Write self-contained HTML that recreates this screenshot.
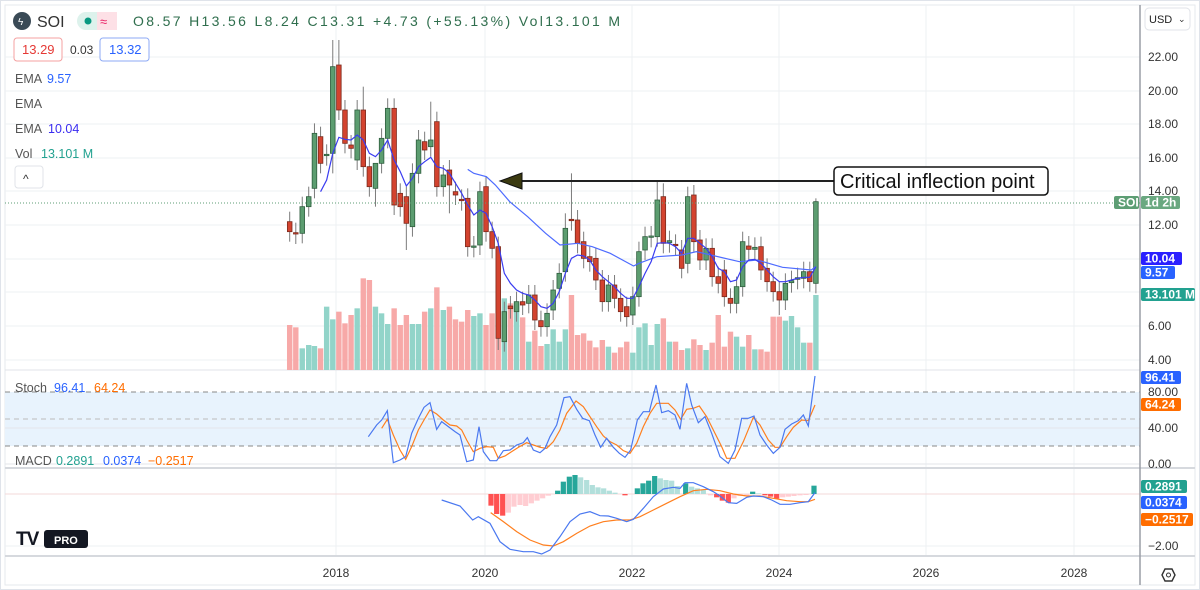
<!DOCTYPE html>
<html><head><meta charset="utf-8"><style>
body{margin:0;width:1200px;height:590px;background:#fff;overflow:hidden;font-family:"Liberation Sans",sans-serif;}
svg{position:absolute;left:0;top:0}
</style></head><body>
<svg id="s" width="1200" height="590" xmlns="http://www.w3.org/2000/svg" font-family="Liberation Sans, sans-serif"></svg>
<script>
const S=document.getElementById('s');let h='';
function add(x){h+=x;}
add('<rect x="0.5" y="0.5" width="1199" height="589" fill="#fff" stroke="#dfe3ea"/>');
add('<rect x="5" y="5" width="1190" height="580" fill="none" stroke="#e6e9ee"/>');
const hy=[57,91,124,158,191,225,259,292,326,360];
hy.forEach(y=>add(`<line x1="5" x2="1140" y1="${y}" y2="${y}" stroke="#eef0f3"/>`));
[336,485,632,779,926,1074].forEach(x=>add(`<line x1="${x}" x2="${x}" y1="5" y2="556" stroke="#eef0f3"/>`));
add('<rect x="5" y="392" width="1135" height="54" fill="#e8f3fd"/>');
[392,446].forEach(y=>add(`<line x1="5" x2="1140" y1="${y}" y2="${y}" stroke="#888" stroke-dasharray="5,4"/>`));
add('<line x1="5" x2="1140" y1="419" y2="419" stroke="#bbb" stroke-dasharray="5,4"/>');
add('<line x1="5" x2="1140" y1="428" y2="428" stroke="#e3e6ea"/><line x1="5" x2="1140" y1="464" y2="464" stroke="#e3e6ea"/>');
add('<line x1="5" x2="1140" y1="370" y2="370" stroke="#e0e3e8"/><line x1="5" x2="1195" y1="468" y2="468" stroke="#d6d9de" stroke-width="2"/><line x1="5" x2="1195" y1="556" y2="556" stroke="#d6d9de" stroke-width="2"/>');
add('<line x1="5" x2="1140" y1="494" y2="494" stroke="#f3d9d9"/><line x1="5" x2="1140" y1="546" y2="546" stroke="#eef0f3"/>');
add('<line x1="1140" x2="1140" y1="5" y2="585" stroke="#9a9ea6" stroke-width="1.5"/>');
const X=z=>280+z/2.786, Y=z=>40+z/3;
const C=[[27,545,575,'r'],[44,578,582,'r'],[62,500,580,'g'],[80,470,500,'g'],[96,280,445,'g'],[113,290,370,'r'],[130,343,347,'g'],[147,80,340,'g',0,400],[164,75,210,'r',0,240],[181,210,310,'r'],[198,315,325,'r'],[215,210,360,'g'],[232,210,380,'r',140],[249,380,440,'r'],[266,370,445,'g',370,500],[283,295,370,'g'],[300,205,295,'g'],[318,205,495,'r'],[335,460,500,'r'],[352,470,550,'r',null,630],[369,400,560,'g'],[386,300,400,'g'],[403,305,330,'r'],[420,300,320,'g',185],[437,245,440,'r'],[455,405,440,'g'],[472,390,435,'r',null,520],[489,455,465,'r'],[506,478,482,'r'],[523,475,620,'r'],[540,618,622,'g'],[557,455,615,'g'],[574,440,575,'r'],[591,575,625,'r'],[608,620,895,'r',null,930],[625,815,905,'g'],[642,798,806,'r'],[659,785,815,'g'],[676,785,795,'r'],[693,765,790,'g'],[710,765,840,'r'],[727,842,860,'r'],[744,820,860,'g'],[761,750,810,'g'],[778,700,745,'g'],[795,565,695,'g',520],[812,538,542,'r',400],[829,540,610,'r'],[846,605,655,'r'],[863,650,665,'r'],[880,655,720,'r'],[898,720,785,'r'],[915,735,785,'g'],[932,735,775,'r'],[949,775,815,'r'],[966,800,830,'r'],[983,770,825,'g'],[1000,635,770,'g'],[1017,590,630,'g'],[1034,588,592,'g'],[1051,480,590,'g',425],[1068,470,610,'r',430],[1085,602,608,'g'],[1102,613,617,'r'],[1119,630,685,'r'],[1136,470,670,'g'],[1153,465,605,'r'],[1170,600,660,'r'],[1187,625,660,'g'],[1204,625,710,'r'],[1221,710,730,'r'],[1238,690,770,'r'],[1255,775,790,'r'],[1272,740,790,'g'],[1289,605,740,'g'],[1306,618,628,'r'],[1323,622,628,'g'],[1340,620,690,'r'],[1357,685,725,'r'],[1374,725,755,'r'],[1391,755,780,'r',null,825],[1408,730,780,'g'],[1425,722,728,'g'],[1442,713,718,'g'],[1459,695,715,'g'],[1476,695,725,'r'],[1493,485,730,'g',475]];
const V=[855,862,925,915,918,925,800,838,815,850,825,805,715,720,800,820,852,805,855,825,852,852,815,805,742,810,800,838,845,810,828,820,855,820,735,775,790,790,832,905,872,918,912,868,905,868,765,885,880,902,922,900,920,938,922,905,938,862,850,915,852,835,905,905,930,925,898,915,930,908,825,920,875,890,920,885,928,928,935,830,830,842,828,862,908,908,765];
C.forEach((c,i)=>{const x=X(c[0]);const v=V[i]||900;add(`<rect x="${x-2.7}" y="${Y(v)}" width="5.4" height="${370-Y(v)}" fill="${c[3]=='g'?'#92d4c9':'#f7a9a8'}"/>`);});
C.forEach(c=>{const x=X(c[0]);const hi=c[4]!=null?c[4]:c[1]-30,lo=c[5]!=null?c[5]:c[2]+30;
add(`<line x1="${x}" x2="${x}" y1="${Y(hi)}" y2="${Y(lo)}" stroke="#7b7b7b" stroke-width="1"/>`);
const g=c[3]=='g';add(`<rect x="${x-2.3}" y="${Y(c[1])}" width="4.6" height="${Math.max(1.2,(c[2]-c[1])/3)}" fill="${g?'#5c9d70':'#d3432f'}" stroke="${g?'#2f5e3e':'#7c2a1c'}" stroke-width="0.8"/>`);});
function pl(pts,fx,fy,col,w){add(`<polyline fill="none" stroke="${col}" stroke-width="${w||1.2}" points="${pts.map(p=>fx(p[0])+','+fy(p[1])).join(' ')}"/>`);}
pl([[523,388],[540,400],[575,410],[600,435],[640,485],[690,530],[740,580],[780,615],[830,610],[870,620],[920,640],[985,678],[1000,670],[1050,650],[1120,645],[1160,635],[1200,645],[1280,665],[1330,660],[1400,682],[1480,690],[1493,680]],X,Y,'#4d6bff');
pl([[113,455],[130,420],[147,340],[164,292],[181,298],[198,300],[215,285],[232,300],[249,340],[266,350],[283,330],[300,300],[318,360],[335,395],[352,438],[369,415],[386,380],[403,365],[420,352],[437,380],[455,385],[472,400],[489,430],[506,460],[523,495],[540,525],[557,510],[574,520],[591,560],[608,610],[625,700],[642,730],[659,750],[676,760],[693,765],[710,780],[727,800],[744,805],[761,790],[778,755],[795,700],[812,655],[829,645],[846,648],[863,660],[880,690],[898,710],[915,725],[932,740],[949,760],[966,775],[983,775],[1000,740],[1017,700],[1034,665],[1051,610],[1068,608],[1085,610],[1102,620],[1119,640],[1136,595],[1153,595],[1170,610],[1187,625],[1204,650],[1221,685],[1238,695],[1255,725],[1272,720],[1289,680],[1306,660],[1323,658],[1340,670],[1357,690],[1374,710],[1391,725],[1408,725],[1425,720],[1442,715],[1459,712],[1476,712],[1493,680]],X,Y,'#3a3cf0');
add('<line x1="5" x2="1140" y1="203" y2="203" stroke="#5d9e74" stroke-dasharray="1,2"/>');
const X2=z=>360+z/3,Y2=z=>370+z/3;
pl([[65,175],[82,148],[100,195],[120,240],[137,268],[155,230],[175,180],[192,150],[210,120],[230,132],[250,150],[270,165],[290,168],[305,180],[320,210],[340,245],[360,235],[380,230],[400,232],[415,265],[435,258],[455,245],[475,232],[500,218],[520,225],[540,232],[560,235],[580,215],[600,180],[620,130],[648,93],[670,110],[690,140],[710,170],[730,198],[750,215],[770,225],[790,242],[810,250],[830,220],[850,170],[870,130],[890,100],[925,100],[945,120],[962,148],[980,118],[1000,115],[1018,108],[1040,140],[1060,180],[1085,230],[1100,265],[1125,265],[1150,215],[1180,142],[1200,165],[1225,210],[1245,232],[1260,232],[1280,200],[1300,172],[1325,150],[1345,152],[1365,105]],X2,Y2,'#ff7f1e');
pl([[25,200],[50,165],[65,150],[82,122],[100,278],[120,270],[137,260],[155,190],[175,145],[192,112],[210,98],[230,178],[245,155],[265,170],[285,185],[300,195],[320,275],[340,270],[357,170],[370,245],[390,272],[410,272],[430,242],[450,240],[470,225],[490,218],[502,203],[520,240],[540,248],[555,235],[570,200],[590,165],[612,83],[630,80],[650,118],[668,145],[688,152],[705,195],[722,232],[740,205],[760,232],[778,250],[795,262],[812,240],[832,150],[850,125],[868,125],[888,45],[905,128],[925,122],[945,135],[960,178],[980,40],[995,105],[1015,158],[1035,140],[1055,190],[1080,260],[1105,280],[1125,240],[1145,145],[1165,145],[1182,138],[1200,195],[1220,225],[1240,250],[1260,232],[1275,178],[1295,162],[1315,152],[1330,135],[1345,168],[1365,18]],X2,Y2,'#4a78f0');
const H=[[393,407,'#ff5252'],[410,432,'#ff5252'],[428,437,'#ff5252'],[445,428,'#ffcdd2'],[462,410,'#ffcdd2'],[480,405,'#ffcdd2'],[497,408,'#ffcdd2'],[514,400,'#ffcdd2'],[531,392,'#ffcdd2'],[548,385,'#ffcdd2'],[565,377,'#ffcdd2'],[593,362,'#26a69a'],[610,335,'#26a69a'],[628,320,'#26a69a'],[645,315,'#26a69a'],[662,322,'#b2dfdb'],[680,330,'#b2dfdb'],[697,345,'#b2dfdb'],[714,352,'#b2dfdb'],[731,355,'#b2dfdb'],[748,362,'#b2dfdb'],[765,368,'#b2dfdb'],[795,376,'#ff5252'],[832,355,'#26a69a'],[849,340,'#26a69a'],[866,332,'#26a69a'],[884,318,'#26a69a'],[901,325,'#b2dfdb'],[918,330,'#b2dfdb'],[935,332,'#b2dfdb'],[952,348,'#b2dfdb'],[977,340,'#26a69a'],[995,350,'#b2dfdb'],[1012,355,'#b2dfdb'],[1030,360,'#b2dfdb'],[1052,376,'#ffcdd2'],[1070,382,'#ff5252'],[1087,392,'#ff5252'],[1105,398,'#ff5252'],[1122,385,'#ffcdd2'],[1140,378,'#ffcdd2'],[1160,376,'#ffcdd2'],[1178,365,'#26a69a'],[1195,370,'#b2dfdb'],[1215,376,'#ff5252'],[1232,380,'#ff5252'],[1250,386,'#ff5252'],[1268,382,'#ffcdd2'],[1285,380,'#ffcdd2'],[1302,378,'#ffcdd2'],[1320,376,'#ffcdd2'],[1338,375,'#ffcdd2'],[1362,347,'#26a69a']];
H.forEach(b=>{const x=X2(b[0]),y=Y2(b[1]),z=Y2(372);add(`<rect x="${x-2.6}" y="${Math.min(y,z)}" width="5.2" height="${Math.abs(y-z)}" fill="${b[2]}"/>`);});
pl([[392,428],[430,455],[470,485],[510,510],[550,525],[580,528],[610,515],[650,490],[690,468],[730,455],[770,450],[810,450],[840,440],[880,420],[920,400],[960,380],[1000,362],[1040,358],[1080,362],[1120,372],[1160,378],[1200,378],[1240,385],[1280,392],[1320,395],[1345,395],[1365,388]],X2,Y2,'#ff7f1e');
pl([[245,390],[300,408],[338,450],[355,440],[390,460],[420,515],[450,538],[490,545],[520,545],[545,552],[570,540],[600,500],[630,455],[660,432],[690,425],[720,437],[745,438],[770,445],[800,455],[820,448],[850,415],[880,380],[910,357],[940,352],[960,355],[975,338],[1000,338],[1030,350],[1060,365],[1080,378],[1105,398],[1130,400],[1160,382],[1180,378],[1210,380],[1235,390],[1260,403],[1290,403],[1320,398],[1345,395],[1365,368]],X2,Y2,'#4a78f0');
add('<line x1="520" x2="834" y1="181" y2="181" stroke="#222" stroke-width="2"/><polygon points="500,181 522,173 522,189" fill="#3b3a10" stroke="#111"/>');
add('<rect x="834" y="167" width="214" height="28" rx="4" fill="#fff" stroke="#111" stroke-width="1.5"/><text x="840" y="188" font-size="20" fill="#111">Critical inflection point</text>');
const L=[[22,57],[20,91],[18,124],[16,158],[14,191],[12,225],[6,326],[4,360]];
L.forEach(l=>add(`<text x="1148" y="${l[1]+4}" font-size="12" fill="#333">${l[0].toFixed(2)}</text>`));
[['80.00',396],['40.00',432],['0.00',468],['\u22122.00',550]].forEach(l=>add(`<text x="1148" y="${l[1]}" font-size="12" fill="#333">${l[0]}</text>`));
function tag(x,y,w,bg,t,fs){add(`<rect x="${x}" y="${y}" width="${w}" height="13" rx="2" fill="${bg}"/><text x="${x+4}" y="${y+10.5}" font-size="${fs||12}" font-weight="bold" fill="#fff">${t}</text>`);}
tag(1114,196,25,'#5d9e74','SOI');tag(1141,196,39,'#6aa880','1d 2h');
tag(1141,252,41,'#2b1fff','10.04');tag(1141,266,34,'#2962ff','9.57');tag(1141,288,54,'#22a190','13.101 M');
tag(1141,371,40,'#2962ff','96.41');tag(1141,398,40,'#ff6d00','64.24');
tag(1141,480,46,'#22a190','0.2891');tag(1141,496,46,'#2962ff','0.0374');tag(1141,513,52,'#ff6d00','\u22120.2517');
add('<rect x="1145" y="8" width="45" height="22" rx="4" fill="#fff" stroke="#e0e3e8"/><text x="1149" y="23" font-size="11" fill="#222">USD</text><text x="1178" y="22" font-size="9" fill="#333">⌄</text>');
add('<polygon points="1162,575 1165,569 1172,569 1175,575 1172,581 1165,581" fill="none" stroke="#333" stroke-width="1.4"/><circle cx="1168.5" cy="575" r="2" fill="none" stroke="#333"/>');
[['2018',336],['2020',485],['2022',632],['2024',779],['2026',926],['2028',1074]].forEach(l=>add(`<text x="${l[1]}" y="577" font-size="12" fill="#333" text-anchor="middle">${l[0]}</text>`));
add('<circle cx="22" cy="21" r="9" fill="#3a4a56"/><text x="18" y="25" font-size="10" fill="#fff">ϟ</text><text x="37" y="27" font-size="16" fill="#333">SOI</text>');
add('<rect x="77" y="12" width="40" height="18" rx="9" fill="#ddf2ec"/><rect x="97" y="12" width="20" height="18" fill="#fde0e6"/><circle cx="88" cy="21" r="3.5" fill="#089981"/><text x="100" y="26" font-size="13" fill="#e91e63">≈</text>');
add('<text x="133" y="26" font-size="14" fill="#2f6e4d" textLength="487" lengthAdjust="spacing">O8.57  H13.56  L8.24  C13.31  +4.73 (+55.13%)  Vol13.101 M</text>');
add('<rect x="14" y="38" width="48" height="23" rx="3" fill="#fff" stroke="#f4a0a0"/><text x="22" y="54" font-size="13" fill="#e53935">13.29</text><text x="70" y="54" font-size="12" fill="#333">0.03</text><rect x="100" y="38" width="49" height="23" rx="3" fill="#fff" stroke="#8eaaf5"/><text x="109" y="54" font-size="13" fill="#2962ff">13.32</text>');
add('<text x="15" y="83" font-size="12.5" fill="#555">EMA</text><text x="47" y="83" font-size="12.5" fill="#2962ff">9.57</text>');
add('<text x="15" y="108" font-size="12.5" fill="#555">EMA</text>');
add('<text x="15" y="133" font-size="12.5" fill="#555">EMA</text><text x="48" y="133" font-size="12.5" fill="#3a2cf0">10.04</text>');
add('<text x="15" y="158" font-size="12.5" fill="#555">Vol</text><text x="41" y="158" font-size="12.5" fill="#22a190">13.101 M</text>');
add('<rect x="15" y="166" width="28" height="22" rx="3" fill="#fff" stroke="#e0e3e8"/><text x="23" y="183" font-size="12" fill="#333">^</text>');
add('<text x="15" y="392" font-size="12.5" fill="#555">Stoch</text><text x="54" y="392" font-size="12.5" fill="#2962ff">96.41</text><text x="94" y="392" font-size="12.5" fill="#ff6d00">64.24</text>');
add('<text x="15" y="465" font-size="12.5" fill="#555">MACD</text><text x="56" y="465" font-size="12.5" fill="#22a190">0.2891</text><text x="103" y="465" font-size="12.5" fill="#2962ff">0.0374</text><text x="148" y="465" font-size="12.5" fill="#ff6d00">\u22120.2517</text>');
add('<text x="16" y="545" font-size="19" font-weight="bold" fill="#131722" letter-spacing="-1">TV</text><rect x="44" y="530" width="44" height="18" rx="3" fill="#131722"/><text x="54" y="544" font-size="11" font-weight="bold" fill="#fff">PRO</text>');
S.innerHTML=h;
</script>
</body></html>
